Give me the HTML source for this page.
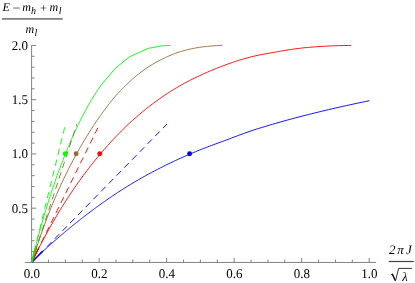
<!DOCTYPE html>
<html><head><meta charset="utf-8"><style>
html,body{margin:0;padding:0;background:#fff;}
body{width:415px;height:283px;overflow:hidden;font-family:"Liberation Serif",serif;}
svg{display:block;will-change:transform;text-rendering:geometricPrecision}
</style></head><body>
<svg width="415" height="283" viewBox="0 0 415 283">
<rect width="415" height="283" fill="#fff"/>
<g stroke="#828282" stroke-width="1" fill="none">
<path d="M24.85 262.45 H376.1"/>
<path d="M31.6 262.45 V44.94999999999999"/>
<path d="M31.60 262.45 v-4.6"/>
<path d="M48.48 262.45 v-2.9"/>
<path d="M65.36 262.45 v-2.9"/>
<path d="M82.24 262.45 v-2.9"/>
<path d="M99.12 262.45 v-4.6"/>
<path d="M116.00 262.45 v-2.9"/>
<path d="M132.88 262.45 v-2.9"/>
<path d="M149.76 262.45 v-2.9"/>
<path d="M166.64 262.45 v-4.6"/>
<path d="M183.52 262.45 v-2.9"/>
<path d="M200.40 262.45 v-2.9"/>
<path d="M217.28 262.45 v-2.9"/>
<path d="M234.16 262.45 v-4.6"/>
<path d="M251.04 262.45 v-2.9"/>
<path d="M267.92 262.45 v-2.9"/>
<path d="M284.80 262.45 v-2.9"/>
<path d="M301.68 262.45 v-4.6"/>
<path d="M318.56 262.45 v-2.9"/>
<path d="M335.44 262.45 v-2.9"/>
<path d="M352.32 262.45 v-2.9"/>
<path d="M369.20 262.45 v-4.6"/>
<path d="M31.6 262.45 h4.6"/>
<path d="M31.6 251.60 h3.0"/>
<path d="M31.6 240.75 h3.0"/>
<path d="M31.6 229.90 h3.0"/>
<path d="M31.6 219.05 h3.0"/>
<path d="M31.6 208.20 h4.6"/>
<path d="M31.6 197.35 h3.0"/>
<path d="M31.6 186.50 h3.0"/>
<path d="M31.6 175.65 h3.0"/>
<path d="M31.6 164.80 h3.0"/>
<path d="M31.6 153.95 h4.6"/>
<path d="M31.6 143.10 h3.0"/>
<path d="M31.6 132.25 h3.0"/>
<path d="M31.6 121.40 h3.0"/>
<path d="M31.6 110.55 h3.0"/>
<path d="M31.6 99.70 h4.6"/>
<path d="M31.6 88.85 h3.0"/>
<path d="M31.6 78.00 h3.0"/>
<path d="M31.6 67.15 h3.0"/>
<path d="M31.6 56.30 h3.0"/>
<path d="M31.6 45.45 h4.6"/>
</g>
<g fill="none" stroke-width="0.92">
<path d="M31.60 262.45 L32.40 261.64 L33.20 260.82 L34.01 260.01 L34.83 259.20 L35.65 258.39 L36.48 257.57 L37.31 256.76 L38.15 255.95 L38.99 255.13 L39.84 254.32 L40.69 253.51 L41.55 252.70 L42.41 251.88 L43.28 251.07 L44.16 250.26 L45.03 249.44 L45.92 248.63 L46.80 247.82 L47.70 247.01 L48.59 246.19 L49.49 245.38 L50.40 244.57 L51.31 243.75 L52.22 242.94 L53.14 242.13 L54.06 241.32 L54.99 240.50 L55.92 239.69 L56.85 238.88 L57.79 238.06 L58.73 237.25 L59.68 236.44 L60.63 235.63 L61.59 234.81 L62.55 234.00 L63.51 233.19 L64.48 232.37 L65.45 231.56 L66.42 230.75 L67.40 229.94 L68.39 229.12 L69.37 228.31 L70.36 227.50 L71.36 226.68 L72.36 225.87 L73.36 225.06 L74.37 224.25 L75.38 223.43 L76.40 222.62 L77.42 221.81 L78.45 220.99 L79.47 220.18 L80.51 219.37 L81.55 218.56 L82.59 217.74 L83.64 216.93 L84.69 216.12 L85.75 215.30 L86.81 214.49 L87.87 213.68 L88.94 212.86 L90.02 212.05 L91.10 211.24 L92.19 210.43 L93.28 209.61 L94.38 208.80 L95.48 207.99 L96.59 207.17 L97.70 206.36 L98.82 205.55 L99.95 204.74 L101.08 203.92 L102.22 203.11 L103.36 202.30 L104.51 201.48 L105.67 200.67 L106.83 199.86 L108.00 199.05 L109.18 198.23 L110.36 197.42 L111.56 196.61 L112.75 195.79 L113.96 194.98 L115.17 194.17 L116.39 193.36 L117.62 192.54 L118.86 191.73 L120.11 190.92 L121.36 190.12 L122.62 189.32 L123.89 188.52 L125.17 187.72 L126.46 186.92 L127.76 186.12 L129.07 185.32 L130.38 184.52 L131.71 183.72 L133.05 182.92 L134.40 182.12 L135.75 181.32 L137.12 180.52 L138.50 179.72 L139.89 178.92 L141.29 178.12 L142.71 177.33 L144.13 176.53 L145.57 175.73 L147.02 174.93 L148.48 174.13 L149.95 173.33 L151.44 172.54 L152.94 171.74 L154.45 170.94 L155.98 170.14 L157.52 169.35 L159.08 168.55 L160.65 167.75 L162.23 166.95 L163.83 166.15 L165.44 165.35 L167.07 164.55 L168.72 163.75 L170.38 162.94 L172.06 162.14 L173.75 161.34 L175.46 160.54 L177.19 159.74 L178.94 158.94 L180.70 158.15 L182.48 157.35 L184.28 156.55 L186.10 155.75 L187.94 154.95 L189.79 154.15 L191.67 153.35 L193.56 152.55 L195.48 151.75 L197.42 150.95 L199.37 150.16 L201.35 149.36 L203.35 148.58 L205.38 147.79 L207.42 147.00 L209.49 146.21 L211.58 145.42 L213.69 144.64 L215.83 143.85 L217.99 143.06 L220.17 142.27 L222.38 141.49 L224.62 140.70 L226.88 139.83 L229.16 138.94 L231.47 138.05 L233.81 137.16 L236.18 136.27 L238.57 135.38 L240.99 134.48 L243.44 133.59 L245.92 132.69 L248.43 131.80 L250.96 130.90 L253.53 130.05 L256.12 129.23 L258.75 128.41 L261.41 127.59 L264.10 126.78 L266.82 125.96 L269.57 125.14 L272.35 124.32 L275.17 123.50 L278.02 122.68 L280.91 121.86 L283.83 121.04 L286.79 120.23 L289.78 119.41 L292.80 118.59 L295.87 117.77 L298.97 116.95 L302.10 116.13 L305.28 115.32 L308.49 114.51 L311.74 113.69 L315.03 112.88 L318.36 112.07 L321.73 111.26 L325.14 110.44 L328.59 109.63 L332.08 108.82 L335.62 108.00 L339.19 107.19 L342.81 106.38 L346.48 105.57 L350.18 104.75 L353.94 103.94 L357.73 103.13 L361.58 102.31 L365.46 101.50 L369.40 100.69" stroke="#0000ff"/>
<path d="M31.60 262.45 L32.67 260.27 L33.75 258.11 L34.83 255.96 L35.91 253.81 L36.99 251.68 L38.07 249.56 L39.16 247.45 L40.25 245.35 L41.34 243.27 L42.43 241.19 L43.53 239.12 L44.63 237.07 L45.74 235.02 L46.85 232.99 L47.96 230.97 L49.08 228.96 L50.20 226.96 L51.33 224.97 L52.45 222.99 L53.59 221.02 L54.73 219.07 L55.87 217.12 L57.02 215.19 L58.17 213.26 L59.32 211.35 L60.48 209.45 L61.65 207.56 L62.82 205.68 L63.99 203.81 L65.17 201.95 L66.35 200.11 L67.54 198.27 L68.73 196.45 L69.93 194.63 L71.13 192.83 L72.33 191.04 L73.54 189.26 L74.76 187.49 L75.98 185.73 L77.20 183.98 L78.43 182.24 L79.66 180.52 L80.90 178.80 L82.14 177.10 L83.39 175.41 L84.64 173.72 L85.89 172.05 L87.15 170.39 L88.41 168.74 L89.68 167.10 L90.95 165.48 L92.23 163.86 L93.51 162.25 L94.79 160.66 L96.08 159.08 L97.37 157.50 L98.67 155.94 L99.97 154.39 L101.28 152.85 L102.59 151.32 L103.90 149.80 L105.22 148.30 L106.54 146.80 L107.86 145.32 L109.19 143.84 L110.53 142.38 L111.86 140.93 L113.21 139.49 L114.55 138.06 L115.90 136.64 L117.26 135.23 L118.61 133.83 L119.98 132.45 L121.34 131.07 L122.71 129.71 L124.09 128.35 L125.46 127.01 L126.85 125.68 L128.23 124.36 L129.63 123.05 L131.02 121.76 L132.42 120.50 L133.83 119.24 L135.24 118.00 L136.65 116.76 L138.07 115.54 L139.49 114.33 L140.92 113.13 L142.35 111.94 L143.79 110.76 L145.23 109.59 L146.67 108.44 L148.13 107.29 L149.58 106.16 L151.04 105.03 L152.51 103.92 L153.98 102.82 L155.46 101.73 L156.94 100.65 L158.43 99.58 L159.92 98.52 L161.42 97.47 L162.93 96.44 L164.44 95.41 L165.96 94.40 L167.48 93.39 L169.01 92.40 L170.55 91.42 L172.09 90.46 L173.64 89.51 L175.19 88.57 L176.75 87.64 L178.32 86.72 L179.89 85.81 L181.48 84.92 L183.07 84.03 L184.66 83.16 L186.27 82.30 L187.88 81.45 L189.50 80.61 L191.12 79.78 L192.76 78.96 L194.40 78.15 L196.05 77.36 L197.71 76.57 L199.37 75.80 L201.05 75.04 L202.73 74.27 L204.42 73.50 L206.12 72.74 L207.83 71.99 L209.55 71.25 L211.28 70.52 L213.02 69.80 L214.76 69.09 L216.52 68.39 L218.29 67.67 L220.06 66.96 L221.85 66.27 L223.64 65.58 L225.45 64.91 L227.26 64.24 L229.09 63.59 L230.93 62.95 L232.77 62.32 L234.63 61.70 L236.50 61.10 L238.38 60.51 L240.27 59.93 L242.17 59.35 L244.09 58.79 L246.01 58.24 L247.95 57.71 L249.89 57.18 L251.85 56.66 L253.83 56.21 L255.81 55.77 L257.81 55.34 L259.81 54.92 L261.83 54.51 L263.87 54.12 L265.91 53.73 L267.97 53.36 L270.04 53.00 L272.12 52.65 L274.22 52.31 L276.33 51.93 L278.45 51.54 L280.59 51.16 L282.74 50.79 L284.90 50.43 L287.07 50.08 L289.26 49.74 L291.46 49.41 L293.68 49.09 L295.91 48.78 L298.15 48.49 L300.41 48.20 L302.68 47.94 L304.97 47.71 L307.27 47.49 L309.58 47.29 L311.91 47.09 L314.25 46.91 L316.60 46.73 L318.97 46.57 L321.36 46.42 L323.75 46.28 L326.17 46.15 L328.59 46.03 L331.03 45.92 L333.49 45.83 L335.96 45.74 L338.44 45.66 L340.94 45.60 L343.46 45.55 L345.98 45.50 L348.53 45.47 L351.08 45.45" stroke="#ff0000"/>
<path d="M31.60 262.45 L32.31 260.27 L33.02 258.11 L33.73 255.96 L34.44 253.81 L35.14 251.68 L35.85 249.56 L36.56 247.45 L37.26 245.35 L37.97 243.27 L38.68 241.19 L39.39 239.12 L40.10 237.07 L40.82 235.02 L41.53 232.99 L42.25 230.97 L42.97 228.96 L43.70 226.96 L44.42 224.97 L45.15 222.99 L45.88 221.02 L46.62 219.07 L47.36 217.12 L48.10 215.19 L48.85 213.26 L49.60 211.35 L50.35 209.45 L51.11 207.56 L51.87 205.68 L52.64 203.81 L53.41 201.95 L54.18 200.11 L54.95 198.27 L55.73 196.45 L56.52 194.63 L57.30 192.83 L58.09 191.04 L58.89 189.26 L59.69 187.49 L60.49 185.73 L61.29 183.98 L62.10 182.24 L62.91 180.52 L63.72 178.80 L64.54 177.10 L65.36 175.41 L66.18 173.72 L67.01 172.05 L67.84 170.39 L68.67 168.74 L69.50 167.10 L70.34 165.48 L71.18 163.86 L72.02 162.25 L72.86 160.66 L73.71 159.08 L74.55 157.50 L75.40 155.94 L76.25 154.39 L77.10 152.85 L77.96 151.32 L78.81 149.80 L79.67 148.30 L80.53 146.80 L81.39 145.32 L82.25 143.84 L83.11 142.38 L83.98 140.93 L84.84 139.49 L85.71 138.06 L86.57 136.64 L87.44 135.23 L88.31 133.83 L89.18 132.45 L90.05 131.07 L90.92 129.71 L91.79 128.35 L92.66 127.01 L93.53 125.68 L94.41 124.36 L95.28 123.05 L96.15 121.75 L97.03 120.46 L97.90 119.18 L98.78 117.92 L99.65 116.66 L100.53 115.42 L101.40 114.19 L102.28 112.96 L103.16 111.75 L104.04 110.55 L104.91 109.36 L105.79 108.19 L106.67 107.02 L107.55 105.86 L108.43 104.72 L109.31 103.58 L110.19 102.46 L111.08 101.35 L111.96 100.25 L112.84 99.16 L113.73 98.08 L114.61 97.05 L115.50 96.05 L116.39 95.06 L117.28 94.08 L118.17 93.11 L119.06 92.16 L119.95 91.21 L120.85 90.28 L121.74 89.35 L122.64 88.44 L123.54 87.54 L124.44 86.65 L125.35 85.77 L126.25 84.90 L127.16 84.05 L128.07 83.20 L128.98 82.33 L129.89 81.47 L130.81 80.63 L131.73 79.79 L132.65 78.97 L133.58 78.16 L134.51 77.36 L135.44 76.57 L136.37 75.79 L137.31 75.02 L138.26 74.27 L139.20 73.52 L140.15 72.79 L141.10 72.06 L142.06 71.35 L143.02 70.63 L143.99 69.93 L144.96 69.23 L145.94 68.55 L146.92 67.88 L147.90 67.21 L148.89 66.56 L149.89 65.92 L150.89 65.30 L151.90 64.69 L152.91 64.08 L153.93 63.49 L154.95 62.91 L155.98 62.34 L157.02 61.78 L158.06 61.24 L159.11 60.70 L160.16 60.18 L161.23 59.66 L162.29 59.14 L163.37 58.59 L164.45 58.05 L165.54 57.52 L166.64 57.00 L167.75 56.49 L168.86 55.99 L169.98 55.50 L171.11 55.02 L172.25 54.55 L173.39 54.10 L174.54 53.65 L175.71 53.23 L176.88 52.81 L178.05 52.41 L179.24 52.02 L180.44 51.63 L181.64 51.27 L182.86 50.91 L184.08 50.57 L185.31 50.24 L186.55 49.92 L187.80 49.61 L189.06 49.32 L190.33 49.03 L191.61 48.75 L192.90 48.49 L194.20 48.23 L195.51 47.99 L196.83 47.75 L198.16 47.53 L199.49 47.32 L200.84 47.13 L202.20 46.95 L203.57 46.77 L204.95 46.61 L206.34 46.46 L207.74 46.32 L209.15 46.18 L210.57 46.06 L212.00 45.96 L213.45 45.86 L214.90 45.74 L216.36 45.62 L217.83 45.51 L219.32 45.42 L220.81 45.33 L222.32 45.25" stroke="#996633"/>
<path d="M31.60 262.45 L32.13 260.27 L32.67 258.11 L33.21 255.96 L33.74 253.81 L34.28 251.68 L34.82 249.56 L35.36 247.45 L35.91 245.35 L36.45 243.27 L37.00 241.19 L37.54 239.12 L38.09 237.07 L38.64 235.02 L39.20 232.99 L39.75 230.97 L40.31 228.96 L40.87 226.96 L41.43 224.97 L41.99 222.99 L42.55 221.02 L43.12 219.07 L43.68 217.12 L44.25 215.19 L44.82 213.26 L45.40 211.35 L45.97 209.45 L46.55 207.56 L47.13 205.68 L47.71 203.81 L48.29 201.95 L48.88 200.11 L49.46 198.27 L50.05 196.45 L50.64 194.63 L51.23 192.83 L51.82 191.04 L52.41 189.26 L53.01 187.49 L53.61 185.73 L54.21 183.98 L54.81 182.24 L55.41 180.52 L56.01 178.80 L56.61 177.10 L57.22 175.41 L57.83 173.72 L58.44 172.05 L59.04 170.39 L59.66 168.74 L60.27 167.10 L60.88 165.48 L61.49 163.86 L62.11 162.25 L62.73 160.66 L63.34 159.08 L63.96 157.50 L64.58 155.94 L65.20 154.39 L65.82 152.85 L66.44 151.32 L67.07 149.80 L67.69 148.30 L68.31 146.80 L68.94 145.32 L69.57 143.84 L70.19 142.38 L70.82 140.93 L71.45 139.49 L72.08 138.06 L72.71 136.64 L73.34 135.23 L73.97 133.83 L74.60 132.45 L75.23 131.07 L75.87 129.71 L76.50 128.35 L77.13 127.01 L77.77 125.68 L78.40 124.36 L79.04 123.05 L79.68 121.75 L80.32 120.46 L80.95 119.18 L81.59 117.92 L82.23 116.66 L82.87 115.42 L83.51 114.19 L84.16 112.96 L84.80 111.75 L85.44 110.55 L86.09 109.36 L86.73 108.19 L87.38 107.02 L88.02 105.86 L88.67 104.72 L89.32 103.58 L89.97 102.46 L90.62 101.35 L91.27 100.25 L91.92 99.16 L92.58 98.08 L93.23 97.01 L93.89 95.95 L94.54 94.90 L95.20 93.87 L95.86 92.84 L96.52 91.83 L97.18 90.83 L97.85 89.84 L98.51 88.85 L99.18 87.88 L101.20 85.02 L115.40 68.23 L129.80 56.64 L147.90 48.43 L161.50 45.84 L170.00 45.45" stroke="#00ff00"/>
<path d="M31.6 262.45 L42.44 251.37" stroke="#0000ff" stroke-width="1.45"/>
<path d="M31.6 262.45 L167.0 124.0" stroke="#0000ff" stroke-dasharray="6.45 4.6" stroke-dashoffset="0"/>
<path d="M31.6 262.45 L38.44 248.54" stroke="#ff0000" stroke-width="1.45"/>
<path d="M31.6 262.45 L97.86 127.8" stroke="#ff0000" stroke-dasharray="6.45 4.6" stroke-dashoffset="0"/>
<path d="M31.6 262.45 L36.42 247.72" stroke="#996633" stroke-width="1.45"/>
<path d="M31.6 262.45 L76.8 124.3" stroke="#996633" stroke-dasharray="6.45 4.6" stroke-dashoffset="0"/>
<path d="M31.6 262.45 L35.28 247.39" stroke="#00ff00" stroke-width="1.45"/>
<path d="M31.6 262.45 L64.65 127.4" stroke="#00ff00" stroke-dasharray="6.45 4.6" stroke-dashoffset="0"/>
</g>
<circle cx="189.6" cy="153.7" r="2.45" fill="#0000ff"/>
<circle cx="99.7" cy="153.7" r="2.45" fill="#ff0000"/>
<circle cx="76.1" cy="153.7" r="2.45" fill="#996633"/>
<circle cx="65.2" cy="153.7" r="2.45" fill="#00ff00"/>
<g font-family="Liberation Serif, serif" font-size="13.4" fill="#000">
<text transform="translate(27.9,212.60) scale(0.97,1)" text-anchor="end">0.5</text>
<text transform="translate(27.9,158.35) scale(0.97,1)" text-anchor="end">1.0</text>
<text transform="translate(27.9,104.10) scale(0.97,1)" text-anchor="end">1.5</text>
<text transform="translate(27.9,49.85) scale(0.97,1)" text-anchor="end">2.0</text>
<text transform="translate(31.80,278.4) scale(0.97,1)" text-anchor="middle">0.0</text>
<text transform="translate(99.32,278.4) scale(0.97,1)" text-anchor="middle">0.2</text>
<text transform="translate(166.84,278.4) scale(0.97,1)" text-anchor="middle">0.4</text>
<text transform="translate(234.36,278.4) scale(0.97,1)" text-anchor="middle">0.6</text>
<text transform="translate(301.88,278.4) scale(0.97,1)" text-anchor="middle">0.8</text>
<text transform="translate(369.40,278.4) scale(0.97,1)" text-anchor="middle">1.0</text>
</g>
<g font-family="Liberation Serif, serif" fill="#000">
<text x="2.5" y="11" font-size="12" font-style="italic" >E</text>
<text x="12.6" y="11.55" font-size="12" font-style="normal" textLength="8" lengthAdjust="spacingAndGlyphs">−</text>
<text x="22.3" y="11" font-size="12" font-style="italic" >m</text>
<text x="31.0" y="14.1" font-size="10" font-style="italic" >h</text>
<text x="40.1" y="11.7" font-size="12" font-style="normal" >+</text>
<text x="49.6" y="11" font-size="12" font-style="italic" >m</text>
<text x="58.8" y="14.1" font-size="10" font-style="italic" >l</text>
<text x="25.4" y="33" font-size="12" font-style="italic" >m</text>
<text x="34.6" y="36.1" font-size="10" font-style="italic" >l</text>
<text x="389.0" y="253.9" font-size="13" font-style="italic" >2</text>
<text x="397.2" y="253.9" font-size="13" font-style="italic" >π</text>
<text x="406.0" y="253.9" font-size="13" font-style="italic" >J</text>
<text x="402.2" y="280.8" font-size="12.5" font-style="italic" >λ</text>
</g>
<path d="M2 18.9 H62.7" stroke="#808080" stroke-width="1.6"/>
<path d="M388.7 261.5 H413.8" stroke="#444" stroke-width="1.2"/>
<path d="M390.8 275.0 L392.4 274.0" stroke="#000" stroke-width="0.7" fill="none"/>
<path d="M392.2 273.9 L395.4 280.7" stroke="#000" stroke-width="1.35" fill="none"/>
<path d="M395.5 280.7 L398.6 268.4 H411.9" stroke="#000" stroke-width="0.8" fill="none"/>
</svg>
</body></html>
